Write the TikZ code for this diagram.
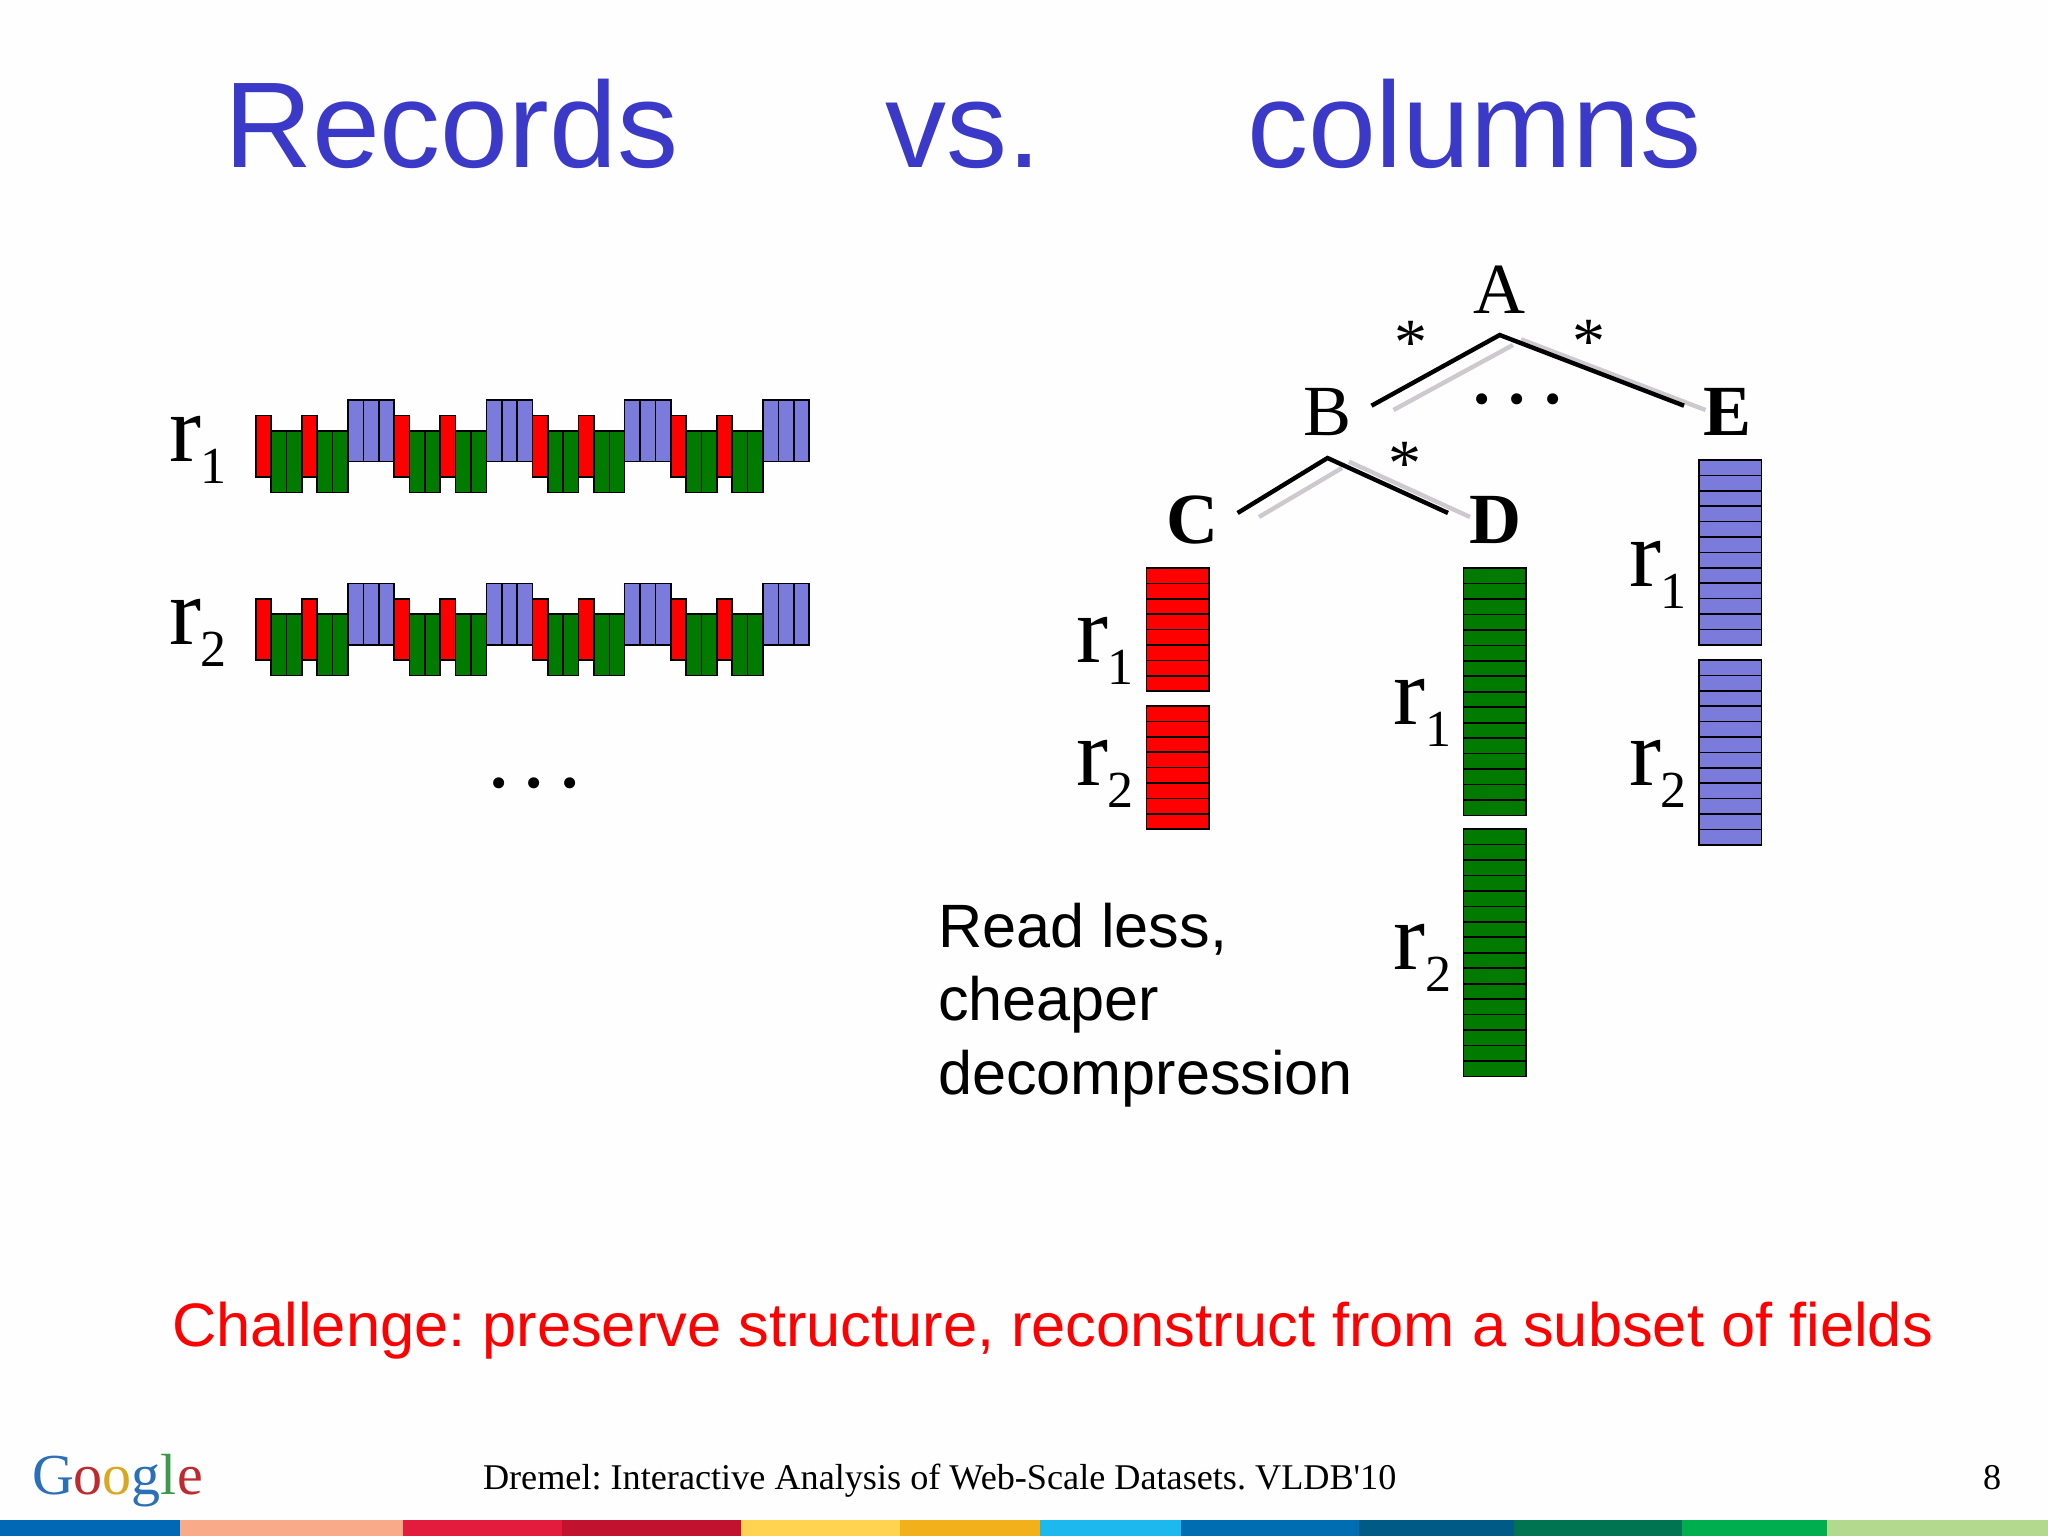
\documentclass[tikz,border=0pt]{standalone}
\usepackage{fontspec}
\setmainfont{Liberation Serif}
\newfontfamily\arialf{Liberation Sans}
\newfontfamily\footserif{Liberation Serif}
\frenchspacing
\definecolor{titleblue}{HTML}{3B39C8}
\definecolor{cellred}{HTML}{FF0000}
\definecolor{cellgreen}{HTML}{007B00}
\definecolor{cellblue}{HTML}{7B7BDC}
\definecolor{edgegray}{HTML}{CCCACE}
\definecolor{gblue}{HTML}{2A6FB8}
\definecolor{gred}{HTML}{BE2A2E}
\definecolor{gyellow}{HTML}{D9A820}
\definecolor{ggreen}{HTML}{3D9A4A}
\newcommand{\szf}[1]{\fontsize{#1}{#1}\selectfont}
\tikzset{
  x=1pt,y=-1pt,
  lab/.style={inner sep=0pt,outer sep=0pt,anchor=base},
  labw/.style={inner sep=0pt,outer sep=0pt,anchor=base west},
  titletext/.style={labw,text=titleblue,font=\arialf\szf{122}},
  bodytext/.style={labw,font=\arialf\szf{61.2}},
  chtext/.style={labw,text=red,font=\arialf\szf{61.4}},
  rtext/.style={labw,font=\szf{96}},
  dotstext/.style={labw,font=\szf{93}},
  treetext/.style={lab,font=\szf{72}},
  treebold/.style={lab,font=\bfseries\szf{72}},
  startext/.style={lab,font=\szf{66}},
  foottext/.style={labw,font=\footserif\szf{36.2}},
  cell/.style={draw=black,line width=1.6pt},
  edgeblack/.style={draw=black,line width=4.4pt},
  edgegrey/.style={draw=edgegray,line width=4.4pt},
}
\newcommand{\rlab}[4]{\node[rtext] (#1) at (#2,#3) {r\raisebox{-22pt}{\szf{52}#4}};}
\newcommand{\colbar}[5]{% x, top, n, cell height, colour
  \foreach \ci in {1,...,#3}{
    \path[cell,fill=#5] (#1,{#2+(\ci-1)*#4}) rectangle (#1+62.5,{#2+\ci*#4});
  }}
\newcommand{\recrow}[1]{% top y of row
  \foreach \g in {0,1,2,3}{
    \pgfmathsetmacro{\gx}{255.8+\g*9*15.37}
    \foreach \u in {6,7,8}{
      \path[cell,fill=cellblue] ({\gx+\u*15.37},#1) rectangle ({\gx+(\u+1)*15.37},#1+61.5);
    }
    \foreach \u in {1,2,4,5}{
      \path[cell,fill=cellgreen] ({\gx+\u*15.37},#1+30.8) rectangle ({\gx+(\u+1)*15.37},#1+92.3);
    }
    \foreach \u in {0,3}{
      \path[cell,fill=cellred] ({\gx+\u*15.37},#1+15.4) rectangle ({\gx+(\u+1)*15.37},#1+76.9);
    }
  }}
\begin{document}
\begin{tikzpicture}
\useasboundingbox (0,0) rectangle (2048,1536);
\fill[white!99.5!black] (0,0) rectangle (2048,1536);

% title
\node[titletext] (t1) at (224,167.5) {Records};
\node[titletext] (t2) at (885,167.5) {vs.};
\node[titletext] (t3) at (1247,167.5) {columns};

% records
\recrow{400}
\recrow{583.3}
\rlab{ra}{169}{461}{1}
\rlab{rb}{169}{644}{2}
\node[dotstext] (rdots) at (487,787) {.\hspace{12.3pt}.\hspace{12.3pt}.};

% tree
\node[treetext] (A) at (1499.7,313) {A};
\node[treetext] (B) at (1327.5,435.5) {B};
\node[treebold] (E) at (1727.5,435.5) {E};
\node[treebold] (C) at (1192,543) {C};
\node[treebold] (D) at (1495.5,543) {D};
\node[startext] (s1) at (1411,364) {*};
\node[startext] (s2) at (1589,363) {*};
\node[startext] (s3) at (1404.5,485) {*};
\node[dotstext] (tdots) at (1470,403) {.\hspace{12.3pt}.\hspace{12.3pt}.};

\coordinate (apexA) at (1499.7,335);
\coordinate (endB) at (1371.5,405.7);
\coordinate (endE) at (1684,405.7);
\coordinate (gB) at (1393.5,410);
\coordinate (gBt) at (1513,345);
\coordinate (gEt) at (1521,339.3);
\coordinate (gE) at (1705.5,410);
\coordinate (apexB) at (1327.5,458);
\coordinate (endC) at (1237.6,513);
\coordinate (endD) at (1448,513);
\coordinate (gC) at (1259,517);
\coordinate (gCt) at (1342,468);
\coordinate (gDt) at (1349,461.7);
\coordinate (gD) at (1470,517);
\draw[edgegrey] (gB) -- (gBt);
\draw[edgegrey] (gEt) -- (gE);
\draw[edgegrey] (gC) -- (gCt);
\draw[edgegrey] (gDt) -- (gD);
\draw[edgeblack] (endB) -- (apexA) -- (endE);
\draw[edgeblack] (endC) -- (apexB) -- (endD);

% columns
\colbar{1146.5}{568}{8}{15.4}{cellred}
\colbar{1146.5}{706}{8}{15.4}{cellred}
\colbar{1463.5}{568}{16}{15.47}{cellgreen}
\colbar{1463.5}{829}{16}{15.47}{cellgreen}
\colbar{1699}{460}{12}{15.4}{cellblue}
\colbar{1699}{660}{12}{15.4}{cellblue}
\rlab{rc}{1076}{662.5}{1}
\rlab{rd}{1076}{785.4}{2}
\rlab{re}{1393.7}{724}{1}
\rlab{rf}{1393.7}{969.7}{2}
\rlab{rg}{1629}{586}{1}
\rlab{rh}{1629}{785.4}{2}

% text
\node[bodytext] (b1) at (938,947.5) {Read less,};
\node[bodytext] (b2) at (938,1020.5) {cheaper};
\node[bodytext] (b3) at (938,1094) {decompression};
\node[chtext] (ch) at (172,1346) {Challenge: preserve structure, reconstruct from a subset of fields};

% footer
\node[labw,font=\szf{58}] (logo) at (32,1494) {\textcolor{gblue}{G}\textcolor{gred}{o}\textcolor{gyellow}{o}\textcolor{gblue}{g}\textcolor{ggreen}{l}\textcolor{gred}{e}};
\node[foottext] (f1) at (483,1489) {Dremel: Interactive Analysis of Web-Scale Datasets. VLDB'10};
\node[foottext] (f2) at (1983,1489) {8};

% colour strip
\foreach \xa/\xb/\cc in {0/180/0068B4,180/403/F9AA88,403/562/E31C3D,562/741/C1122F,741/900/FFD24F,900/1040/F2B01A,1040/1181/1DB8EE,1181/1359/006DB2,1359/1514/005A86,1514/1682/007350,1682/1827/00AE4F,1827/2048/B3D98F}{
  \definecolor{stripc}{HTML}{\cc}
  \fill[stripc] (\xa,1520) rectangle (\xb,1536);
}
\end{tikzpicture}
\end{document}
